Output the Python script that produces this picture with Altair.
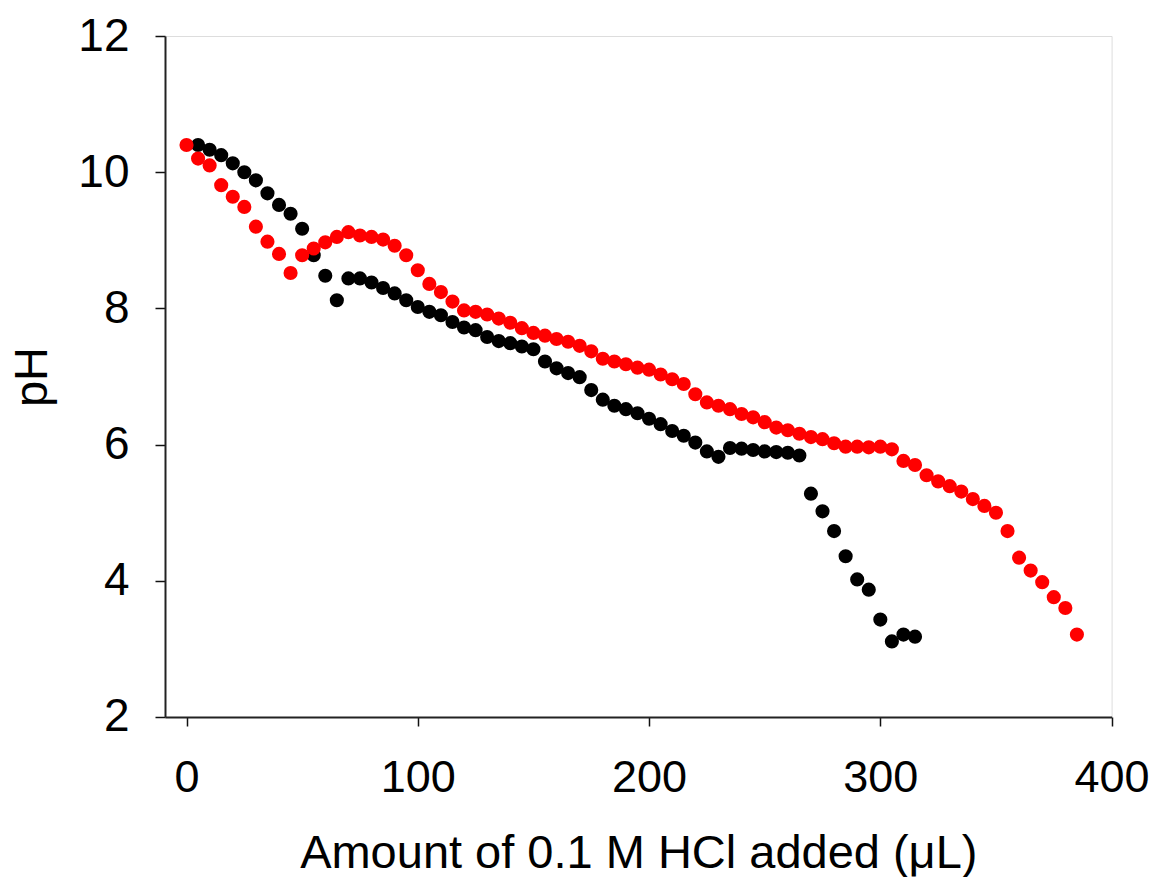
import altair as alt
import pandas as pd

# Black series (added HCl in µL, pH)
x_black = [5, 10, 15, 20, 25, 30, 35, 40, 45, 50,
           55, 60, 65, 70, 75, 80, 85, 90, 95, 100,
           105, 110, 115, 120, 125, 130, 135, 140, 145, 150,
           155, 160, 165, 170, 175, 180, 185, 190, 195, 200,
           205, 210, 215, 220, 225, 230, 235, 240, 245, 250,
           255, 260, 265, 270, 275, 280, 285, 290, 295, 300,
           305, 310, 315]
ph_black = [10.40, 10.33, 10.25, 10.13, 10.00, 9.88, 9.69, 9.52, 9.39, 9.17,
            8.78, 8.48, 8.12, 8.44, 8.44, 8.38, 8.30, 8.22, 8.12, 8.02,
            7.95, 7.90, 7.80, 7.72, 7.68, 7.58, 7.52, 7.49, 7.44, 7.40,
            7.22, 7.12, 7.05, 6.99, 6.80, 6.66, 6.57, 6.52, 6.46, 6.38,
            6.30, 6.20, 6.13, 6.03, 5.90, 5.82, 5.95, 5.94, 5.92, 5.90,
            5.89, 5.88, 5.84, 5.28, 5.02, 4.73, 4.36, 4.02, 3.87, 3.43,
            3.11, 3.21, 3.18]

# Red series
x_red = [0, 5, 10, 15, 20, 25, 30, 35, 40, 45,
         50, 55, 60, 65, 70, 75, 80, 85, 90, 95,
         100, 105, 110, 115, 120, 125, 130, 135, 140, 145,
         150, 155, 160, 165, 170, 175, 180, 185, 190, 195,
         200, 205, 210, 215, 220, 225, 230, 235, 240, 245,
         250, 255, 260, 265, 270, 275, 280, 285, 290, 295,
         300, 305, 310, 315, 320, 325, 330, 335, 340, 345,
         350, 355, 360, 365, 370, 375, 380, 385]
ph_red = [10.40, 10.20, 10.10, 9.81, 9.64, 9.49, 9.20, 8.98, 8.80, 8.52,
          8.78, 8.88, 8.97, 9.05, 9.12, 9.07, 9.05, 9.01, 8.92, 8.78,
          8.56, 8.36, 8.24, 8.10, 7.97, 7.95, 7.91, 7.85, 7.79, 7.71,
          7.64, 7.60, 7.55, 7.51, 7.45, 7.37, 7.26, 7.22, 7.18, 7.13,
          7.10, 7.03, 6.96, 6.89, 6.74, 6.62, 6.57, 6.52, 6.45, 6.40,
          6.33, 6.25, 6.21, 6.16, 6.11, 6.08, 6.02, 5.97, 5.97, 5.96,
          5.97, 5.93, 5.76, 5.70, 5.55, 5.46, 5.39, 5.31, 5.20, 5.10,
          5.00, 4.73, 4.34, 4.15, 3.98, 3.76, 3.60, 3.21]

x_ticks = [0, 100, 200, 300, 400]
y_ticks = [2, 4, 6, 8, 10, 12]

df_black = pd.DataFrame({"x": x_black, "ph": ph_black})
df_red = pd.DataFrame({"x": x_red, "ph": ph_red})

FONT = "Liberation Sans"

x_enc = alt.X(
    "x:Q",
    scale=alt.Scale(domain=[-9.3, 400], nice=False, zero=False),
    axis=alt.Axis(
        values=x_ticks, title="Amount of 0.1 M HCl added (μL)",
        grid=False, tickSize=9, tickWidth=1.5, tickColor="#111",
        domainColor="#222", domainWidth=2,
        labelFont=FONT, labelFontSize=45, labelColor="#000", labelPadding=30,
        labelFlush=False, labelOverlap=False,
        titleFont=FONT, titleFontSize=47, titleFontWeight="normal", titleColor="#000",
        titleX=473.3, titleY=151, titleBaseline="alphabetic", titleAlign="center",
    ),
)
y_enc = alt.Y(
    "ph:Q",
    scale=alt.Scale(domain=[2, 12], nice=False, zero=False),
    axis=alt.Axis(
        values=y_ticks, title="pH",
        grid=False, tickSize=10, tickWidth=1.5, tickColor="#111",
        domainColor="#222", domainWidth=2,
        labelFont=FONT, labelFontSize=46, labelColor="#000", labelPadding=26,
        labelFlush=False, labelOverlap=False,
        titleFont=FONT, titleFontSize=47, titleFontWeight="normal", titleColor="#000",
        titleAngle=270, titleX=-118, titleY=340.5,
        titleBaseline="alphabetic", titleAlign="center",
    ),
)

black = alt.Chart(df_black).mark_circle(size=200, opacity=1, color="#000000").encode(x=x_enc, y=y_enc)
red = alt.Chart(df_red).mark_circle(size=200, opacity=1, color="#ff0000").encode(x=x_enc, y=y_enc)

chart = alt.layer(black, red).properties(
    width=946.6,
    height=681,
    autosize=alt.AutoSizeParams(type="none"),
    padding={"left": 157, "top": 28, "right": 37, "bottom": 160},
).configure_view(stroke="#222", strokeWidth=2).configure(background="white")

chart.save("out.html", embed_options={"renderer": "svg", "actions": False})
